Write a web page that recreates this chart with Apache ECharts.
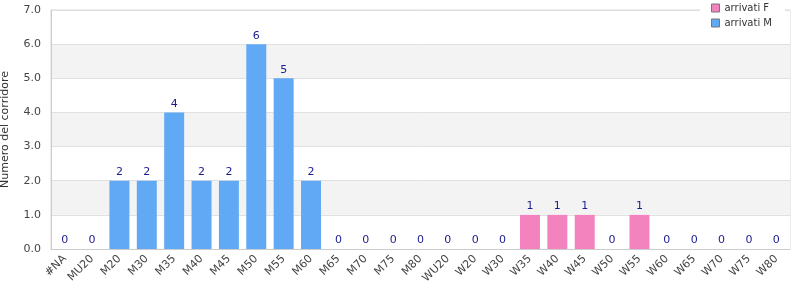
<!DOCTYPE html>
<html><head><meta charset="utf-8">
<script src="https://cdn.jsdelivr.net/npm/echarts@6/dist/echarts.min.js"></script>
<style>html,body{margin:0;padding:0;background:#fff}#c{width:800px;height:300px}</style>
</head><body><div id="c"></div>
<script>
const categories = ['#NA','MU20','M20','M30','M35','M40','M45','M50','M55','M60','M65','M70','M75','M80','WU20','W20','W30','W35','W40','W45','W50','W55','W60','W65','W70','W75','W80'];
const arrivatiM = [0,0,2,2,4,2,2,6,5,2,0,0,0,0,0,0,0,null,null,null,null,null,null,null,null,null,null];
const arrivatiF = [null,null,null,null,null,null,null,null,null,null,null,null,null,null,null,null,null,1,1,1,0,1,0,0,0,0,0];
const yTicks = {min:0, max:7, interval:1};

const font = 'DejaVu Sans';
const chart = echarts.init(document.getElementById('c'));
const lbl = {show:true, position:'top', color:'#1c1c8f', fontSize:11, fontFamily:font, distance:3};
chart.setOption({
  animation:false,
  textStyle:{fontFamily:font},
  grid:{left:51, right:10, top:10, bottom:51, show:true, borderColor:'#d8d8d8', borderWidth:1, containLabel:false, outerBoundsMode:'none'},
  legend:{
    orient:'vertical', right:15, top:0, backgroundColor:'#fff', padding:[3,13,3,11],
    icon:'rect', itemWidth:8, itemHeight:8, itemGap:5,
    itemStyle:{borderColor:'#777', borderWidth:1},
    textStyle:{fontFamily:font, fontSize:10, color:'#333'},
    data:['arrivati F','arrivati M']
  },
  xAxis:{
    type:'category', data:categories,
    axisLine:{lineStyle:{color:'#cccccc'}},
    axisTick:{show:false},
    axisLabel:{rotate:45, interval:0, fontSize:11, color:'#444', fontFamily:font, margin:8}
  },
  yAxis:{
    type:'value', min:yTicks.min, max:yTicks.max, interval:yTicks.interval,
    name:'Numero del corridore', nameLocation:'middle', nameGap:40,
    nameTextStyle:{fontSize:11, color:'#333', fontFamily:font},
    axisLine:{show:true, lineStyle:{color:'#cccccc'}},
    axisTick:{show:false},
    axisLabel:{formatter:v=>v.toFixed(1), fontSize:11, color:'#444', fontFamily:font, margin:10},
    splitLine:{lineStyle:{color:'#e0e0e0'}},
    splitArea:{show:true, areaStyle:{color:['#ffffff','#f3f3f3']}}
  },
  series:[
    {name:'arrivati M', type:'bar', stack:'a', data:arrivatiM, barWidth:'73%', itemStyle:{color:'#62a9f5', borderWidth:0}, label:lbl},
    {name:'arrivati F', type:'bar', stack:'a', data:arrivatiF, barWidth:'73%', itemStyle:{color:'#f283be', borderWidth:0}, label:lbl}
  ]
});
</script></body></html>
